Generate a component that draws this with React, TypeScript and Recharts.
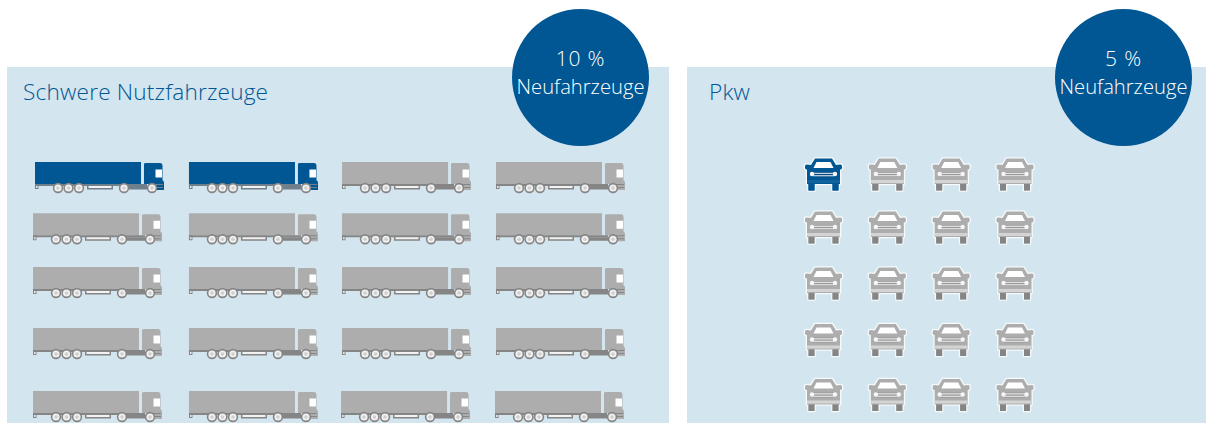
import { ScatterChart, Scatter, XAxis, YAxis } from 'recharts'

const BLUE = '#005794'
const PANEL = '#d3e5ef'
const GREY = '#adadad'
const DARK_GREY = '#858585'
const FONT = '"Open Sans", sans-serif'

const gridColumns = [1, 2, 3, 4]
const gridRows = [1, 2, 3, 4, 5]

// cells drawn in blue, as "row-column"
const newTrucks = ['1-1', '1-2']
const newCars = ['1-1']

const truckTitle = 'Schwere Nutzfahrzeuge'
const carTitle = 'Pkw'
const truckShare = '10 %'
const carShare = '5 %'
const badgeLabel = 'Neufahrzeuge'

// the rows of the original are not evenly spaced
const TRUCK_ROW_NUDGE = [0, -6, -9.5, -5.75, 0]
const TRUCK_COL_NUDGE = [-2, 0.3, -0.3, 0]
const CAR_ROW_NUDGE = [0, -2.4, -1.75, -0.6, -1]

function buildCells(highlighted: string[]) {
  return gridRows.flatMap(row =>
    gridColumns.map(col => ({ row, col, isNew: highlighted.includes(`${row}-${col}`) })),
  )
}

const truckCells = buildCells(newTrucks)
const carCells = buildCells(newCars)

function Truck({ cx, cy, payload }: any) {
  const { row, col, isNew } = payload
  const x = cx - 64 + TRUCK_COL_NUDGE[col - 1] + (isNew && col === 1 ? 2 : 0) + (row === 5 && col > 2 ? -1 : 0)
  const y = cy - 14 + TRUCK_ROW_NUDGE[row - 1]
  const fill = isNew ? BLUE : GREY
  const frame = isNew ? '#6f7f8c' : DARK_GREY
  const wheels = [23, 33.5, 44, 89, 117]
  return (
    <g transform={`translate(${x},${y})`}>
      <rect x={0} y={0} width={106} height={22} fill={fill} />
      <rect x={0} y={22} width={112} height={2} fill={frame} />
      <rect x={0} y={22} width={3.5} height={5} fill={frame} />
      <rect x={1.2} y={24} width={1.3} height={2} fill="#fff" />
      <rect x={52} y={22.5} width={26} height={5} fill={frame} />
      <rect x={53.5} y={24} width={23} height={2} fill="#f2f2f2" />
      <rect x={88} y={24} width={30} height={3.5} fill={frame} />
      <path d="M109 2 Q109 1 111 1 L125 1 Q127.5 1 127.5 4 L127.5 18 L129 20 L129 28 L118 28 L118 22 L109 22 Z" fill={fill} />
      <rect x={120.5} y={7.5} width={6.5} height={8} fill="#fff" />
      <rect x={119} y={22} width={9} height={1} fill={frame} />
      <rect x={119} y={25} width={9} height={1} fill={frame} />
      {wheels.map(w => (
        <g key={w}>
          <circle cx={w} cy={26} r={5.2} fill={DARK_GREY} />
          <circle cx={w} cy={26} r={3.6} fill="#f0f0f0" />
          <circle cx={w} cy={26} r={1.8} fill="#cfcfcf" />
        </g>
      ))}
    </g>
  )
}

const CAR_BODY = 'M10 0.5 L27 0.5 L31 7 L35.5 6.5 Q37 6.5 37 8.5 L37 10 Q37 11.5 35 11.5 L35 26 L33.5 26 L33.5 32.5 L27.5 32.5 L27.5 26 L9.5 26 L9.5 32.5 L3.5 32.5 L3.5 26 L2 26 L2 11.5 Q0 11.5 0 10 L0 8.5 Q0 6.5 1.5 6.5 L6 7 Z'

function Car({ cx, cy, payload }: any) {
  const { row, isNew } = payload
  const x = cx - 18.5
  const y = cy - 16.5 + CAR_ROW_NUDGE[row - 1]
  const fill = isNew ? BLUE : GREY
  return (
    <g transform={`translate(${x},${y})`}>
      <path d={CAR_BODY} fill={fill} stroke="#f6fafc" strokeWidth={2.6} strokeLinejoin="round" paintOrder="stroke" />
      <rect x={3.5} y={26} width={6} height={6.5} fill={isNew ? BLUE : DARK_GREY} />
      <rect x={27.5} y={26} width={6} height={6.5} fill={isNew ? BLUE : DARK_GREY} />
      <path d="M8.5 10 L11.5 4 L25.5 4 L28.5 10 Z" fill="#fff" />
      <rect x={8} y={14} width={21} height={5} fill={isNew ? '#0f4d80' : '#969696'} />
      <rect x={8} y={14.8} width={21} height={1.1} fill={isNew ? '#d5e3ee' : '#ececec'} />
      <rect x={8} y={17.2} width={21} height={1.1} fill={isNew ? '#d5e3ee' : '#ececec'} />
      <circle cx={7} cy={16} r={2.2} fill="#f6f6f6" />
      <circle cx={30} cy={16} r={2.2} fill="#f6f6f6" />
      <rect x={2} y={22} width={33} height={3} fill={isNew ? '#0f639f' : '#d4d4d4'} />
    </g>
  )
}

function Panel({ left, width, title, titleLeft, children }: any) {
  return (
    <div style={{ position: 'absolute', left, top: 67, width, height: 356, background: PANEL }}>
      <div style={{ position: 'absolute', left: titleLeft, top: 9, fontSize: 22.6, fontWeight: 300, letterSpacing: 0.2, lineHeight: '32px', color: BLUE, whiteSpace: 'nowrap' }}>
        {title}
      </div>
      {children}
    </div>
  )
}

function Badge({ left, share }: any) {
  return (
    <div style={{
      position: 'absolute', left, top: 9, width: 137, height: 137, borderRadius: '50%', background: BLUE,
      color: '#fff', textAlign: 'center', fontSize: 20.2, fontWeight: 300, lineHeight: '28px', paddingTop: 35, boxSizing: 'border-box',
    }}>
      <div style={{ fontSize: 21, letterSpacing: 0.8 }}>{share}</div>
      <div>{badgeLabel}</div>
    </div>
  )
}

function Grid({ width, cells, margin, shape }: any) {
  return (
    <ScatterChart width={width} height={356} margin={margin} style={{ position: 'absolute', left: 0, top: 0 }}>
      <XAxis type="number" dataKey="col" domain={[1, 4]} hide />
      <YAxis type="number" dataKey="row" domain={[1, 5]} reversed hide />
      <Scatter data={cells} shape={shape} isAnimationActive={false} />
    </ScatterChart>
  )
}

export default function App() {
  return (
    <div style={{ position: 'absolute', left: 0, top: 0, width: 1206, height: 423, overflow: 'hidden', background: '#fff', fontFamily: FONT }}>
      <Panel left={7} width={662} title={truckTitle} titleLeft={16}>
        <Grid width={662} cells={truckCells} shape={Truck} margin={{ top: 109, right: 109, bottom: 18, left: 92 }} />
      </Panel>
      <Panel left={687} width={519} title={carTitle} titleLeft={22}>
        <Grid width={519} cells={carCells} shape={Car} margin={{ top: 107.5, right: 191, bottom: 27, left: 136.5 }} />
      </Panel>
      <Badge left={512} share={truckShare} />
      <Badge left={1055} share={carShare} />
    </div>
  )
}
